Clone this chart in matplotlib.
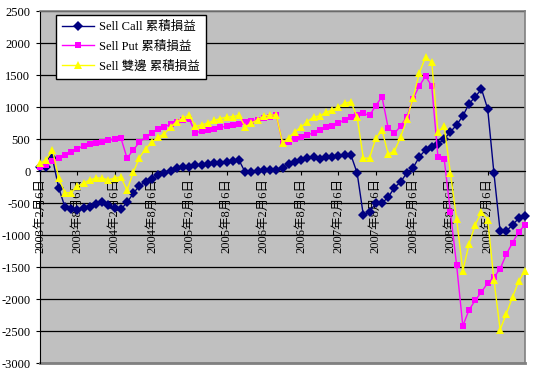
import matplotlib
matplotlib.use('Agg')
import matplotlib.pyplot as plt
import numpy as np

plt.rcParams['font.family'] = ['Liberation Serif', 'DejaVu Serif', 'Noto Sans CJK TC']
plt.rcParams['axes.unicode_minus'] = False

# 累積損益, monthly points from 2003/2/6
sell_call = [60, 70, 200, -260, -560, -600, -610, -580, -560, -510,
             -480, -530, -580, -600, -490, -350, -230, -170, -120, -70,
             -30, 0, 40, 60, 70, 90, 100, 110, 120, 130,
             140, 150, 170, -20, -10, 0, 10, 20, 20, 40,
             110, 140, 170, 200, 220, 190, 220, 220, 230, 250,
             250, -30, -690, -640, -500, -500, -410, -260, -170, -30,
             50, 220, 330, 375, 420, 500, 610, 720, 860, 1050,
             1160, 1280, 970, -30, -940, -940, -840, -740, -700]
sell_put = [60, 100, 150, 200, 250, 300, 350, 390, 420, 440,
            460, 480, 500, 520, 200, 330, 450, 530, 600, 650,
            690, 730, 770, 790, 810, 600, 620, 640, 660, 680,
            700, 720, 740, 760, 780, 800, 830, 850, 870, 440,
            460, 500, 530, 560, 600, 640, 680, 710, 750, 800,
            840, 870, 900, 870, 1020, 1160, 670, 590, 700, 850,
            1130, 1330, 1480, 1330, 220, 190, -640, -1470, -2420, -2170,
            -2020, -1890, -1750, -1660, -1530, -1300, -1120, -950, -840]
sell_both = [120, 170, 330, -110, -340, -340, -240, -190, -140, -110,
             -110, -140, -110, -90, -300, -20, 210, 350, 450, 530,
             580, 690, 770, 830, 870, 700, 720, 750, 790, 820,
             840, 850, 870, 690, 750, 800, 860, 875, 875, 440,
             520, 610, 690, 770, 845, 860, 920, 950, 1000, 1060,
             1080, 845, 200, 200, 510, 640, 265, 310, 530, 810,
             1140, 1530, 1780, 1700, 610, 700, -30, -750, -1560, -1140,
             -840, -640, -760, -1700, -2480, -2230, -1970, -1720, -1560]

date_labels = ['2003年2月6日', '2003年8月6日', '2004年2月6日', '2004年8月6日',
               '2005年2月6日', '2005年8月6日', '2006年2月6日', '2006年8月6日',
               '2007年2月6日', '2007年8月6日', '2008年2月6日', '2008年8月6日',
               '2009年2月6日']
y_ticks = [-3000, -2500, -2000, -1500, -1000, -500, 0, 500, 1000, 1500, 2000, 2500]

fig = plt.figure(figsize=(5.39, 3.76), dpi=100)
ax = fig.add_axes([40 / 539, 13 / 376, 485 / 539, 352 / 376])
ax.set_facecolor('#C0C0C0')

# category axis crosses at 0 (set before ticks, it resets them)
ax.spines['bottom'].set_position(('data', 0))
ax.spines['bottom'].set_color('black')
ax.spines['left'].set_color('black')
for s in ['top', 'right']:
    ax.spines[s].set_color('#808080')
    ax.spines[s].set_linewidth(1.2)

x = np.arange(len(sell_call))
ax.plot(x, sell_call, color='#000080', lw=1, marker='D', ms=5.5, mew=0,
        clip_on=False, label='Sell Call 累積損益', zorder=3)
ax.plot(x, sell_put, color='#FF00FF', lw=1, marker='s', ms=5, mew=0,
        clip_on=False, label='Sell Put 累積損益', zorder=4)
ax.plot(x, sell_both, color='#FFFF00', lw=1, marker='^', ms=6, mew=0,
        clip_on=False, label='Sell 雙邊 累積損益', zorder=5)

ax.set_xlim(0, len(x) - 1)
ax.set_ylim(-3000, 2500)
ax.set_yticks(y_ticks)
ax.set_yticklabels([str(v) for v in y_ticks], fontsize=9)
ax.set_xticks(np.arange(0, 6 * len(date_labels), 6))
ax.set_xticklabels(date_labels, fontsize=9)

ax.grid(axis='y', color='black', lw=0.9)
ax.set_axisbelow(True)
ax.axhline(-3000, color='#808080', lw=2, clip_on=False)

ax.tick_params(axis='x', direction='out', length=3, width=0.8, pad=2, labelrotation=90)
ax.tick_params(axis='y', direction='out', length=3, width=0.8, pad=4)

leg = ax.legend(loc='upper left', bbox_to_anchor=(0.033, 0.989), borderaxespad=0,
                fancybox=False, edgecolor='black', facecolor='white', framealpha=1,
                fontsize=9, handlelength=2.5, handletextpad=0.4,
                labelspacing=0.6, borderpad=0.5)
leg.get_frame().set_linewidth(1)

fig.savefig('out.png', dpi=100, facecolor='white')
